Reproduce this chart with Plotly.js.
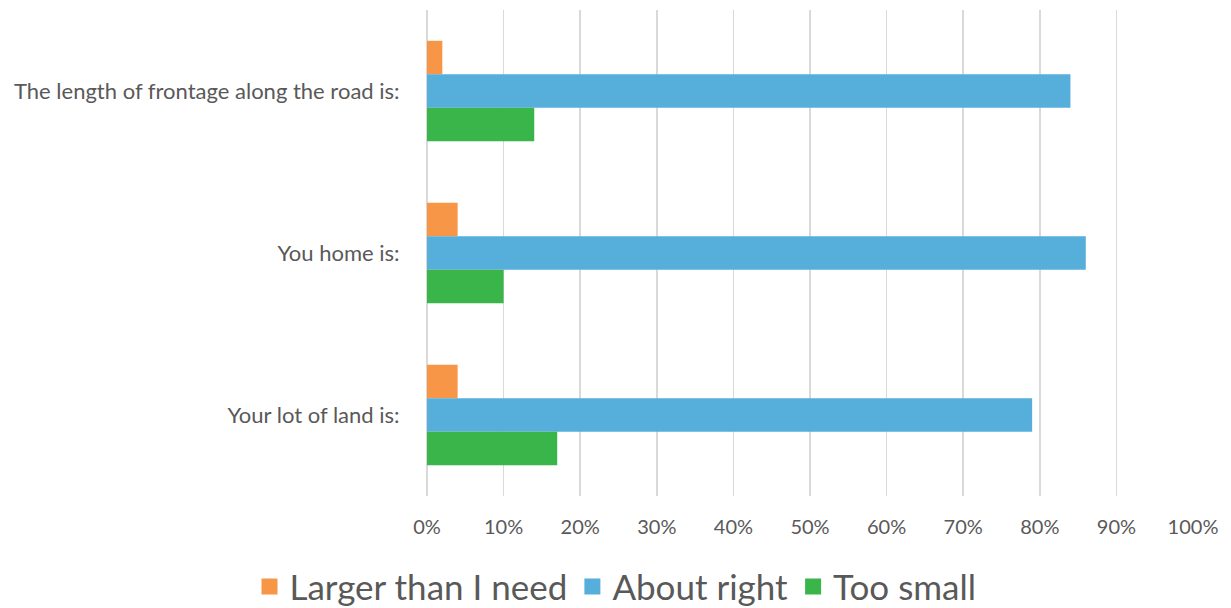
<!DOCTYPE html>
<html><head><meta charset="utf-8">
<script src="https://cdn.plot.ly/plotly-3.0.1.min.js"></script>
<style>html,body{margin:0;padding:0;background:#fff}#c{width:1231px;height:608px}</style>
</head><body><div id="c"></div>
<script>
const categories = ["The length of frontage along the road is:", "You home is:", "Your lot of land is:"];
const seriesNames = ["Larger than I need", "About right", "Too small"];
const largerThanINeed = [0.02, 0.04, 0.04];
const aboutRight = [0.84, 0.86, 0.79];
const tooSmall = [0.14, 0.10, 0.17];
const xTickVals = [0,0.1,0.2,0.3,0.4,0.5,0.6,0.7,0.8,0.9,1.0];
const xTickText = ["0%","10%","20%","30%","40%","50%","60%","70%","80%","90%","100%"];
const colors = ["#F79646", "#56AEDB", "#39B54A"];
const values = [largerThanINeed, aboutRight, tooSmall];
const font = "Lato, 'Open Sans', sans-serif";
const traces = values.map((v,i)=>({
  type:'bar', orientation:'h', name:seriesNames[i], x:v, y:categories,
  marker:{color:colors[i]}, hoverinfo:'x+y', showlegend:false
}));
// legend entries (square swatches)
seriesNames.forEach((n,i)=>traces.push({
  type:'scatter', mode:'markers', name:n, x:[null], y:[null],
  marker:{symbol:'square', size:18, color:colors[i]}, showlegend:true, hoverinfo:'skip'
}));
const layout = {
  width:1231, height:608,
  margin:{l:427, r:38, t:10, b:112, pad:0},
  paper_bgcolor:'#fff', plot_bgcolor:'#fff',
  barmode:'group', bargap:0.38, bargroupgap:0,
  font:{family:font, color:'#595959', size:20},
  xaxis:{range:[0,1], tickvals:xTickVals, ticktext:xTickText, showgrid:true,
    gridcolor:'#d9d9d9', gridwidth:1.5, zeroline:true, zerolinecolor:'#d9d9d9', zerolinewidth:1.5,
    showline:false, layer:'below traces',
    ticks:'outside', ticklen:13, tickcolor:'rgba(0,0,0,0)', fixedrange:true,
    tickfont:{size:20, color:'#595959'}},
  yaxis:{autorange:'reversed', showgrid:false, zeroline:false, showline:false,
    ticks:'outside', ticklen:22, tickcolor:'rgba(0,0,0,0)',
    tickfont:{size:22, color:'#595959'}, type:'category'},
  showlegend:true,
  legend:{orientation:'h', xref:'container', x:0.5, xanchor:'center', yref:'container', y:0.035, yanchor:'middle',
    font:{size:35, color:'#595959', family:font}, itemwidth:30, itemsizing:'trace', traceorder:'normal'}
};
Plotly.newPlot('c', traces, layout, {displayModeBar:false, staticPlot:true});
</script></body></html>
